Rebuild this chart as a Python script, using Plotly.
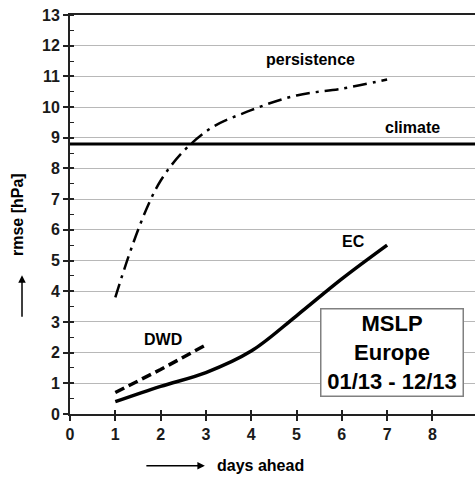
import plotly.graph_objects as go

days = [1, 2, 3, 4, 5, 6, 7]
persistence = [3.8, 7.6, 9.2, 9.9, 10.38, 10.6, 10.9]
ec = [0.4, 0.9, 1.35, 2.05, 3.2, 4.4, 5.5]
dwd_days = [1, 2, 3]
dwd = [0.7, 1.45, 2.25]
climate = 8.8
climate_x = [0, 9]
x_ticks = [0, 1, 2, 3, 4, 5, 6, 7, 8, 9]
y_ticks = list(range(0, 14))

FONT = "Liberation Sans, Arial, sans-serif"

fig = go.Figure()
fig.add_trace(go.Scatter(x=climate_x, y=[climate, climate], mode="lines",
                         line=dict(color="black", width=3), showlegend=False))
fig.add_trace(go.Scatter(x=days, y=persistence, mode="lines",
                         line=dict(color="black", width=2.5, shape="spline",
                                   dash="14px,6px,3px,6px"), showlegend=False))
fig.add_trace(go.Scatter(x=days, y=ec, mode="lines",
                         line=dict(color="black", width=3.5, shape="spline"),
                         showlegend=False))
fig.add_trace(go.Scatter(x=dwd_days, y=dwd, mode="lines",
                         line=dict(color="black", width=3.5, dash="10px,5px"),
                         showlegend=False))
# overlay axes for the inward half of crossing ticks
fig.add_trace(go.Scatter(x=[], y=[], xaxis="x2", yaxis="y2", showlegend=False))

XR = [0, 8.94]
tickfont = dict(family=FONT, size=16, color="#1a1a1a", weight="bold")

fig.update_layout(
    width=475, height=477,
    margin=dict(l=70, r=0, t=15, b=63),
    paper_bgcolor="white", plot_bgcolor="white",
    font=dict(family=FONT, color="black"),
    xaxis=dict(range=XR, tickvals=x_ticks, ticks="outside", ticklen=5,
               tickwidth=1.5, tickcolor="#222", showgrid=False, zeroline=False,
               showline=True, linecolor="#222", linewidth=2, mirror=True,
               tickfont=tickfont),
    yaxis=dict(range=[0, 13], tickvals=y_ticks, ticks="outside", ticklen=5,
               tickwidth=1.5, tickcolor="#222", showgrid=True,
               gridcolor="#b8b8b8", gridwidth=1.2, zeroline=False,
               showline=True, linecolor="#222", linewidth=2,
               tickfont=tickfont,
               minor=dict(dtick=0.5, ticks="inside", ticklen=4, tickwidth=1.2,
                          tickcolor="#222", showgrid=False)),
    xaxis2=dict(range=XR, overlaying="x", tickvals=x_ticks, ticks="inside",
                ticklen=4, tickwidth=1.5, tickcolor="#222",
                showticklabels=False, showgrid=False, zeroline=False,
                showline=False, side="bottom"),
    yaxis2=dict(range=[0, 13], overlaying="y", tickvals=y_ticks, ticks="inside",
                ticklen=4, tickwidth=1.5, tickcolor="#222",
                showticklabels=False, showgrid=False, zeroline=False,
                showline=False, side="left"),
)

lab = dict(family=FONT, size=16, color="black")
fig.add_annotation(x=5.3, y=11.56, text="<b>persistence</b>", showarrow=False, font=lab)
fig.add_annotation(x=7.55, y=9.34, text="<b>climate</b>", showarrow=False, font=lab)
fig.add_annotation(x=6.25, y=5.61, text="<b>EC</b>", showarrow=False, font=lab)
fig.add_annotation(x=2.06, y=2.44, text="<b>DWD</b>", showarrow=False, font=lab)

fig.add_annotation(x=7.1, y=2.02, text="<b>MSLP<br>Europe<br>01/13 - 12/13</b>",
                   showarrow=False, font=dict(family=FONT, size=22, color="black"),
                   bgcolor="white", bordercolor="#808080", borderwidth=1.5,
                   width=139, height=84, align="center")

# axis titles with arrows
fig.add_annotation(xref="paper", yref="paper", x=-0.128, y=0.499,
                   xanchor="center", yanchor="middle",
                   text="<b>rmse [hPa]</b>", textangle=-90, showarrow=False,
                   font=lab)
fig.add_annotation(xref="paper", yref="paper", x=-0.1185, y=0.348, text="",
                   showarrow=True, ax=0, ay=43, arrowhead=2, arrowsize=1,
                   arrowwidth=1.5, arrowcolor="black")
fig.add_annotation(xref="paper", yref="paper", x=0.333, y=-0.130, text="",
                   showarrow=True, ax=-60, ay=0, arrowhead=2, arrowsize=1,
                   arrowwidth=1.5, arrowcolor="black")
fig.add_annotation(xref="paper", yref="paper", x=0.358, y=-0.130,
                   text="<b>days ahead</b>", showarrow=False, xanchor="left",
                   yanchor="middle", font=lab)

fig.write_html("out.html")
